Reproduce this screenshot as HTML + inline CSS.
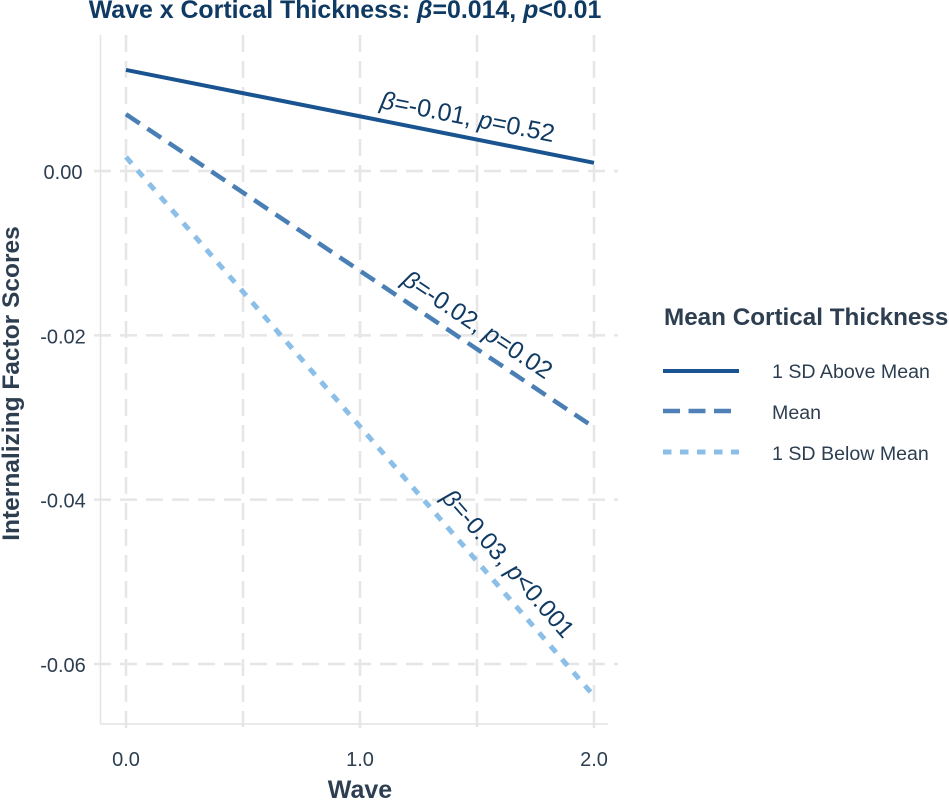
<!DOCTYPE html>
<html lang="en">
<head>
<meta charset="utf-8">
<title>Wave x Cortical Thickness</title>
<style>
html,body{margin:0;padding:0;background:#fff;width:949px;height:800px;overflow:hidden}
svg{display:block;font-family:"Liberation Sans",Arial,sans-serif}
</style>
</head>
<body>
<svg id="chart" width="949" height="800" viewBox="0 0 949 800" xmlns="http://www.w3.org/2000/svg">
  <rect width="949" height="800" fill="#fff"/>
  <g id="grid"></g>
  <line x1="100.5" y1="35" x2="100.5" y2="724" stroke="#e3e3e3" stroke-width="1.5"/>
  <line x1="100" y1="724" x2="608" y2="724" stroke="#e3e3e3" stroke-width="1.5"/>
  <g id="series"></g>
  <g id="ticks" font-size="20" fill="#2c3e50"></g>
  <text x="345" y="18" text-anchor="middle" font-size="24.9" font-weight="700" fill="#0f3a63">Wave x Cortical Thickness: <tspan font-style="italic">β</tspan>=0.014, <tspan font-style="italic">p</tspan>&lt;0.01</text>
  <text x="360" y="798" text-anchor="middle" font-size="25" font-weight="700" fill="#2c3e50">Wave</text>
  <text transform="translate(19,383.5) rotate(-90)" text-anchor="middle" font-size="24.5" font-weight="700" fill="#2c3e50">Internalizing Factor Scores</text>
  <g id="annotations" font-size="25" fill="#0f3a63">
    <text transform="translate(466,125) rotate(11.2)" text-anchor="middle"><tspan font-style="italic">β</tspan>=-0.01, <tspan font-style="italic">p</tspan>=0.52</text>
    <text transform="translate(473,331.5) rotate(33.8)" text-anchor="middle" font-size="24.6"><tspan font-style="italic">β</tspan>=-0.02, <tspan font-style="italic">p</tspan>=0.02</text>
    <text transform="translate(502,569) rotate(49)" text-anchor="middle" font-size="24.5"><tspan font-style="italic">β</tspan>=-0.03, <tspan font-style="italic">p</tspan>&lt;0.001</text>
  </g>
  <g id="legend">
    <text x="664" y="325" font-size="24.25" font-weight="700" fill="#2c3e50">Mean Cortical Thickness</text>
    <line x1="663" y1="371" x2="739" y2="371" stroke="#1a5490" stroke-width="4"/>
    <text x="772" y="378" font-size="19.6" fill="#2c3e50">1 SD Above Mean</text>
    <line x1="663" y1="411" x2="739" y2="411" stroke="#4f81b8" stroke-width="4.5" stroke-dasharray="17 8.5"/>
    <text x="772" y="419" font-size="19.6" fill="#2c3e50">Mean</text>
    <line x1="663" y1="452" x2="739" y2="452" stroke="#8bbfe8" stroke-width="5" stroke-dasharray="8.5 8.5"/>
    <text x="772" y="460" font-size="19.6" fill="#2c3e50">1 SD Below Mean</text>
  </g>
</svg>
<script>
const waves = [0, 2];
const aboveMean = [0.0123, 0.0010];
const meanLevel = [0.0069, -0.0312];
const belowMean = [0.0017, -0.0639];
const xMajorTicks = [0, 1, 2];
const xMinorTicks = [0.5, 1.5];
const xTickLabels = ['0.0', '1.0', '2.0'];
const yTicks = [0, -0.02, -0.04, -0.06];
const yTickLabels = ['0.00', '-0.02', '-0.04', '-0.06'];

const NS = 'http://www.w3.org/2000/svg';
const xScale = v => 126 + v * 234;
const yScale = v => 171 - v * 8217;

function make(tag, attrs, parent) {
  const el = document.createElementNS(NS, tag);
  Object.keys(attrs).forEach(k => el.setAttribute(k, attrs[k]));
  parent.appendChild(el);
  return el;
}

const gridGroup = document.getElementById('grid');
const tickGroup = document.getElementById('ticks');
const seriesGroup = document.getElementById('series');
const gridStyle = { stroke: '#e6e6e6', 'stroke-width': 2.5, 'stroke-dasharray': '17 9' };

xMajorTicks.forEach((t, i) => {
  const line = make('line', Object.assign({ x1: xScale(t), x2: xScale(t), y1: 35, y2: 734 }, gridStyle), gridGroup);
  
  
  const label = make('text', { x: xScale(t), y: 766, 'text-anchor': 'middle' }, tickGroup);
  
  
  label.textContent = xTickLabels[i];
});

xMinorTicks.forEach(t => {
  const line = make('line', Object.assign({ x1: xScale(t), x2: xScale(t), y1: 35, y2: 727 }, gridStyle), gridGroup);
  
  
});

yTicks.forEach((t, i) => {
  const line = make('line', Object.assign({ x1: 94, x2: 618, y1: yScale(t), y2: yScale(t) }, gridStyle), gridGroup);
  
  
  const label = make('text', { x: 63, y: yScale(t) + 8, 'text-anchor': 'middle' }, tickGroup);
  
  
  label.textContent = yTickLabels[i];
});

function linePoints(values) {
  return values.map((v, i) => xScale(waves[i]) + ',' + yScale(v)).join(' ');
}

const aboveLine = make('polyline', { points: linePoints(aboveMean), fill: 'none', stroke: '#1a5490', 'stroke-width': 4 }, seriesGroup);



const meanLine = make('polyline', { points: linePoints(meanLevel), fill: 'none', stroke: '#4a7fb6', 'stroke-width': 4.5, 'stroke-dasharray': '16.5 9.2' }, seriesGroup);



const belowLine = make('polyline', { points: linePoints(belowMean), fill: 'none', stroke: '#8bbfe8', 'stroke-width': 5, 'stroke-dasharray': '8.5 9' }, seriesGroup);


</script>
</body>
</html>
